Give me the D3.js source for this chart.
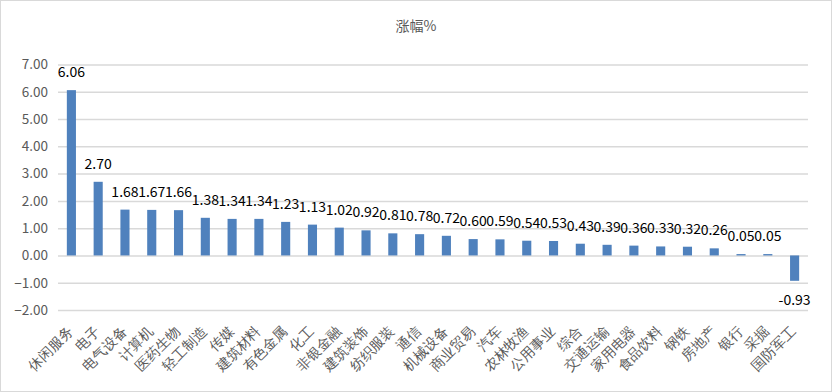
<!DOCTYPE html>
<html><head><meta charset="utf-8">
<script src="https://cdn.jsdelivr.net/npm/d3@7"></script>
<style>
body{margin:0;background:#fff;}
svg{display:block;font-family:"Noto Sans CJK SC","Microsoft YaHei",sans-serif;}
</style></head>
<body><svg id="c" width="832" height="392"></svg>
<script>
const title = "涨幅%";
const categories = ["休闲服务","电子","电气设备","计算机","医药生物","轻工制造","传媒","建筑材料","有色金属","化工","非银金融","建筑装饰","纺织服装","通信","机械设备","商业贸易","汽车","农林牧渔","公用事业","综合","交通运输","家用电器","食品饮料","钢铁","房地产","银行","采掘","国防军工"];
const values = [6.06,2.70,1.68,1.67,1.66,1.38,1.34,1.34,1.23,1.13,1.02,0.92,0.81,0.78,0.72,0.60,0.59,0.54,0.53,0.43,0.39,0.36,0.33,0.32,0.26,0.05,0.05,-0.93];
const yTicks = [-2,-1,0,1,2,3,4,5,6,7];

const svg = d3.select("#c");
const W = 832, H = 392;
svg.append("rect").attr("x",0.5).attr("y",0.5).attr("width",W-1).attr("height",H-1)
  .attr("fill","#fff").attr("stroke","#d9d9d9");

const left = 58, right = 808;
const y = d3.scaleLinear().domain([-2,7]).range([310,64.5]);
const x = d3.scaleBand().domain(categories).range([left,right]).paddingInner(0.66).paddingOuter(0.33);

svg.append("text").attr("x",416).attr("y",31).attr("text-anchor","middle")
  .attr("font-size",14).attr("fill","#595959").text(title);

const yAxis = d3.axisLeft(y).tickValues(yTicks).tickFormat(d3.format(".2f")).tickSize(-(right-left)).tickPadding(10);
const gy = svg.append("g").attr("transform",`translate(${left},0)`).call(yAxis);
gy.select(".domain").remove();
gy.selectAll(".tick line").attr("stroke","#d9d9d9").attr("stroke-width",1.5);
gy.selectAll(".tick text").attr("fill","#595959").attr("font-size",13.5)
  .attr("font-family","Noto Sans CJK SC, sans-serif");

svg.append("g").selectAll("rect").data(values).join("rect")
  .attr("x",(d,i)=>x(categories[i]))
  .attr("width",x.bandwidth())
  .attr("y",d=>y(Math.max(0,d)))
  .attr("height",d=>Math.abs(y(d)-y(0)))
  .attr("fill","#4f81bd");

svg.append("g").selectAll("text").data(values).join("text")
  .attr("x",(d,i)=>x(categories[i])+x.bandwidth()/2)
  .attr("y",d=>d>=0 ? y(d)-13 : y(d)+24)
  .attr("text-anchor","middle")
  .attr("font-size",14).attr("fill","#000")
  .text(d=>d.toFixed(2));

const xAxis = d3.axisBottom(x).tickSize(0).tickPadding(0);
const gx = svg.append("g").attr("transform",`translate(0,${y(-2)})`).call(xAxis);
gx.select(".domain").remove();
gx.selectAll(".tick text")
  .attr("font-size",14).attr("fill","#595959")
  .attr("text-anchor","end")
  .attr("dy","0.35em")
  .attr("transform","translate(-1,19) rotate(-45)");
</script></body></html>
